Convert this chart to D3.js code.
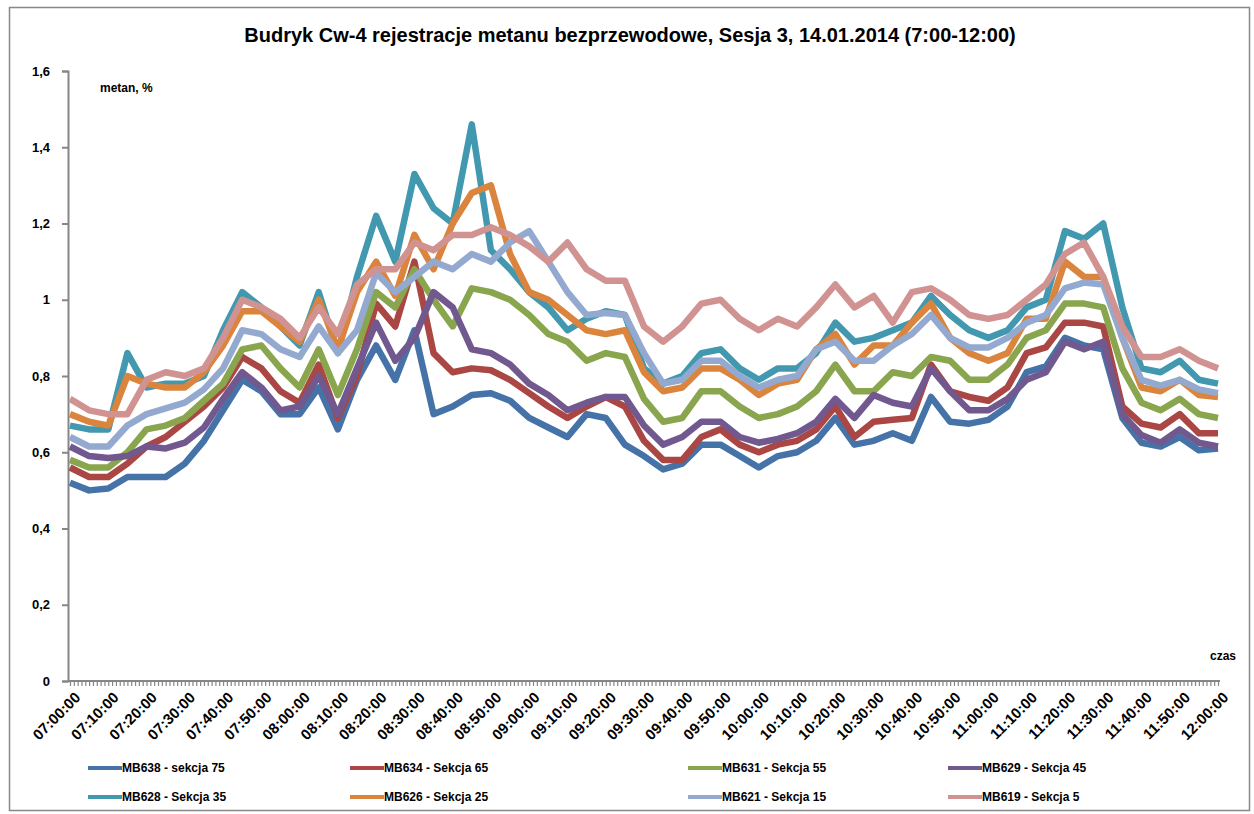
<!DOCTYPE html>
<html>
<head>
<meta charset="utf-8">
<script src="https://cdnjs.cloudflare.com/ajax/libs/d3/7.8.5/d3.min.js"></script>
<style>
  body { margin: 0; background: #fff; }
  text { font-family: "Liberation Sans", Arial, sans-serif; }
</style>
</head>
<body>
<svg width="1254" height="814"></svg>
<script>
// sampled every 5 minutes from 07:00 to 12:00
var sampleMinutes = d3.range(0, 301, 5);

var tickLabels = ["07:00:00", "07:10:00", "07:20:00", "07:30:00", "07:40:00", "07:50:00",
  "08:00:00", "08:10:00", "08:20:00", "08:30:00", "08:40:00", "08:50:00",
  "09:00:00", "09:10:00", "09:20:00", "09:30:00", "09:40:00", "09:50:00",
  "10:00:00", "10:10:00", "10:20:00", "10:30:00", "10:40:00", "10:50:00",
  "11:00:00", "11:10:00", "11:20:00", "11:30:00", "11:40:00", "11:50:00", "12:00:00"];

var yTicks = [0, 0.2, 0.4, 0.6, 0.8, 1, 1.2, 1.4, 1.6];

var mb638 = [0.52, 0.50, 0.505, 0.535, 0.535, 0.535, 0.57, 0.63, 0.71, 0.79,
  0.76, 0.70, 0.70, 0.77, 0.66, 0.79, 0.88, 0.79, 0.92, 0.70,
  0.72, 0.75, 0.755, 0.735, 0.69, 0.665, 0.64, 0.70, 0.69, 0.62,
  0.59, 0.555, 0.57, 0.62, 0.62, 0.59, 0.56, 0.59, 0.60, 0.63,
  0.69, 0.62, 0.63, 0.65, 0.63, 0.745, 0.68, 0.675, 0.685, 0.72,
  0.81, 0.825, 0.90, 0.88, 0.87, 0.69, 0.625, 0.615, 0.64, 0.605,
  0.61];
var mb634 = [0.56, 0.535, 0.535, 0.57, 0.615, 0.64, 0.68, 0.72, 0.77, 0.85,
  0.82, 0.76, 0.73, 0.83, 0.69, 0.80, 0.99, 0.93, 1.10, 0.86,
  0.81, 0.82, 0.815, 0.79, 0.755, 0.72, 0.69, 0.72, 0.745, 0.72,
  0.63, 0.58, 0.58, 0.64, 0.66, 0.62, 0.60, 0.62, 0.63, 0.66,
  0.72, 0.64, 0.68, 0.685, 0.69, 0.83, 0.76, 0.745, 0.735, 0.77,
  0.86, 0.875, 0.94, 0.94, 0.93, 0.72, 0.675, 0.665, 0.70, 0.65,
  0.65];
var mb631 = [0.58, 0.56, 0.56, 0.60, 0.66, 0.67, 0.69, 0.735, 0.78, 0.87,
  0.88, 0.82, 0.77, 0.87, 0.75, 0.87, 1.02, 0.98, 1.08, 1.00,
  0.93, 1.03, 1.02, 1.00, 0.96, 0.91, 0.89, 0.84, 0.86, 0.85,
  0.74, 0.68, 0.69, 0.76, 0.76, 0.72, 0.69, 0.70, 0.72, 0.76,
  0.83, 0.76, 0.76, 0.81, 0.80, 0.85, 0.84, 0.79, 0.79, 0.83,
  0.90, 0.92, 0.99, 0.99, 0.98, 0.82, 0.73, 0.71, 0.74, 0.70,
  0.69];
var mb629 = [0.615, 0.59, 0.585, 0.59, 0.615, 0.61, 0.625, 0.665, 0.74, 0.81,
  0.77, 0.71, 0.72, 0.80, 0.70, 0.82, 0.94, 0.84, 0.90, 1.02,
  0.98, 0.87, 0.86, 0.83, 0.78, 0.75, 0.71, 0.73, 0.745, 0.745,
  0.67, 0.62, 0.64, 0.68, 0.68, 0.64, 0.625, 0.635, 0.65, 0.68,
  0.74, 0.69, 0.75, 0.73, 0.72, 0.82, 0.76, 0.71, 0.71, 0.74,
  0.79, 0.81, 0.89, 0.87, 0.89, 0.70, 0.645, 0.625, 0.66, 0.625,
  0.615];
var mb628 = [0.67, 0.66, 0.66, 0.86, 0.77, 0.78, 0.78, 0.80, 0.92, 1.02,
  0.98, 0.93, 0.88, 1.02, 0.86, 1.06, 1.22, 1.10, 1.33, 1.24,
  1.20, 1.46, 1.13, 1.08, 1.02, 0.98, 0.92, 0.95, 0.97, 0.96,
  0.82, 0.78, 0.80, 0.86, 0.87, 0.82, 0.79, 0.82, 0.82, 0.86,
  0.94, 0.89, 0.90, 0.92, 0.94, 1.01, 0.96, 0.92, 0.90, 0.92,
  0.98, 1.00, 1.18, 1.16, 1.20, 0.98, 0.82, 0.81, 0.84, 0.79,
  0.78];
var mb626 = [0.70, 0.68, 0.67, 0.80, 0.78, 0.77, 0.77, 0.81, 0.88, 0.97,
  0.97, 0.93, 0.89, 1.00, 0.87, 1.02, 1.10, 1.01, 1.17, 1.08,
  1.20, 1.28, 1.30, 1.12, 1.02, 1.00, 0.96, 0.92, 0.91, 0.92,
  0.81, 0.76, 0.77, 0.82, 0.82, 0.79, 0.75, 0.78, 0.79, 0.87,
  0.91, 0.83, 0.88, 0.88, 0.94, 0.99, 0.90, 0.86, 0.84, 0.86,
  0.95, 0.95, 1.10, 1.06, 1.06, 0.90, 0.77, 0.76, 0.79, 0.75,
  0.745];
var mb621 = [0.64, 0.615, 0.615, 0.67, 0.70, 0.715, 0.73, 0.765, 0.82, 0.92,
  0.91, 0.87, 0.85, 0.93, 0.86, 0.92, 1.07, 1.02, 1.06, 1.10,
  1.08, 1.12, 1.10, 1.15, 1.18, 1.10, 1.02, 0.96, 0.965, 0.96,
  0.86, 0.78, 0.79, 0.84, 0.84, 0.80, 0.77, 0.79, 0.80, 0.87,
  0.89, 0.84, 0.84, 0.88, 0.91, 0.96, 0.90, 0.875, 0.875, 0.90,
  0.94, 0.96, 1.03, 1.045, 1.04, 0.90, 0.79, 0.775, 0.79, 0.765,
  0.755];
var mb619 = [0.74, 0.71, 0.70, 0.70, 0.79, 0.81, 0.80, 0.82, 0.90, 1.00,
  0.98, 0.95, 0.90, 0.98, 0.91, 1.04, 1.08, 1.08, 1.15, 1.13,
  1.17, 1.17, 1.19, 1.17, 1.14, 1.10, 1.15, 1.08, 1.05, 1.05,
  0.93, 0.89, 0.93, 0.99, 1.00, 0.95, 0.92, 0.95, 0.93, 0.98,
  1.04, 0.98, 1.01, 0.94, 1.02, 1.03, 1.00, 0.96, 0.95, 0.96,
  1.00, 1.04, 1.12, 1.15, 1.06, 0.93, 0.85, 0.85, 0.87, 0.84,
  0.82];

var seriesNames = ["MB638 - sekcja 75", "MB634 - Sekcja 65", "MB631 - Sekcja 55", "MB629 - Sekcja 45",
  "MB628 - Sekcja 35", "MB626 - Sekcja 25", "MB621 - Sekcja 15", "MB619 - Sekcja 5"];
var seriesValues = [mb638, mb634, mb631, mb629, mb628, mb626, mb621, mb619];
var seriesColors = ["#4572A7", "#AA4643", "#89A54E", "#71588F", "#4198AF", "#DB843D", "#93A9CF", "#D19392"];

var svg = d3.select("svg");

// outer chart border
svg.append("rect")
  .attr("x", 9.5).attr("y", 7.5)
  .attr("width", 1240).attr("height", 803)
  .attr("fill", "none")
  .attr("stroke", "#888")
  .attr("stroke-width", 1.5);

svg.append("text")
  .attr("x", 630).attr("y", 42)
  .attr("text-anchor", "middle")
  .style("font-size", "20px")
  .style("font-weight", "bold")
  .text("Budryk Cw-4 rejestracje metanu bezprzewodowe, Sesja 3, 14.01.2014 (7:00-12:00)");

var xScale = d3.scaleLinear().domain([0, 300]).range([70, 1218]);
var yScale = d3.scaleLinear().domain([0, 1.6]).range([681, 71]);

// y axis
var leftAxis = d3.axisLeft(yScale)
  .tickValues(yTicks)
  .tickSize(6)
  .tickPadding(12)
  .tickFormat(function (d) { return String(d).replace(".", ","); });
var gy = svg.append("g")
  .attr("transform", "translate(68,0)")
  .call(leftAxis);
gy.select(".domain").attr("stroke", "#868686").attr("stroke-width", 2);
gy.selectAll(".tick line").attr("stroke", "#868686").attr("stroke-width", 2);
gy.selectAll(".tick text")
  .style("font-size", "13px")
  .style("font-weight", "bold")
  .attr("fill", "#000");

// x axis: minor ticks each minute, labels each 10 minutes
var bottomAxis = d3.axisBottom(xScale)
  .tickValues(d3.range(0, 301, 1))
  .tickSizeOuter(0)
  .tickSize(5)
  .tickFormat("");
var gx = svg.append("g")
  .attr("transform", "translate(0,681)")
  .call(bottomAxis);
gx.select(".domain").attr("stroke", "#868686").attr("stroke-width", 2)
  .attr("d", "M68,0H1220");
gx.selectAll(".tick line").attr("stroke", "#868686").attr("stroke-width", 1.2);

svg.append("g")
  .selectAll("text")
  .data(tickLabels)
  .enter()
  .append("text")
  .attr("transform", function (d, i) {
    return "translate(" + (xScale(i * 10) + 4) + ",691) rotate(-45)";
  })
  .attr("text-anchor", "end")
  .attr("dy", "0.7em")
  .style("font-size", "15px")
  .style("font-weight", "bold")
  .text(function (d) { return d; });

svg.append("text")
  .attr("x", 100).attr("y", 92)
  .style("font-size", "12px")
  .style("font-weight", "bold")
  .text("metan, %");

svg.append("text")
  .attr("x", 1236).attr("y", 660)
  .attr("text-anchor", "end")
  .style("font-size", "12px")
  .style("font-weight", "bold")
  .text("czas");

// series lines
var line = d3.line()
  .x(function (d, i) { return xScale(sampleMinutes[i]); })
  .y(function (d) { return yScale(d); });

svg.append("g")
  .selectAll("path")
  .data(seriesValues)
  .enter()
  .append("path")
  .attr("d", line)
  .attr("fill", "none")
  .attr("stroke", function (d, i) { return seriesColors[i]; })
  .attr("stroke-width", 6.5)
  .attr("stroke-linejoin", "round");

// legend, 4 columns x 2 rows
var legendX = [88, 350, 688, 948];
var legendY = [768, 797];
var legend = svg.append("g")
  .selectAll("g")
  .data(seriesNames)
  .enter()
  .append("g")
  .attr("transform", function (d, i) {
    return "translate(" + legendX[i % 4] + "," + legendY[Math.floor(i / 4)] + ")";
  });
legend.append("line")
  .attr("x1", 0).attr("x2", 34)
  .attr("stroke", function (d, i) { return seriesColors[i]; })
  .attr("stroke-width", 4);
legend.append("text")
  .attr("x", 34).attr("dy", "0.35em")
  .style("font-size", "12px")
  .style("font-weight", "bold")
  .text(function (d) { return d; });
</script>
</body>
</html>
